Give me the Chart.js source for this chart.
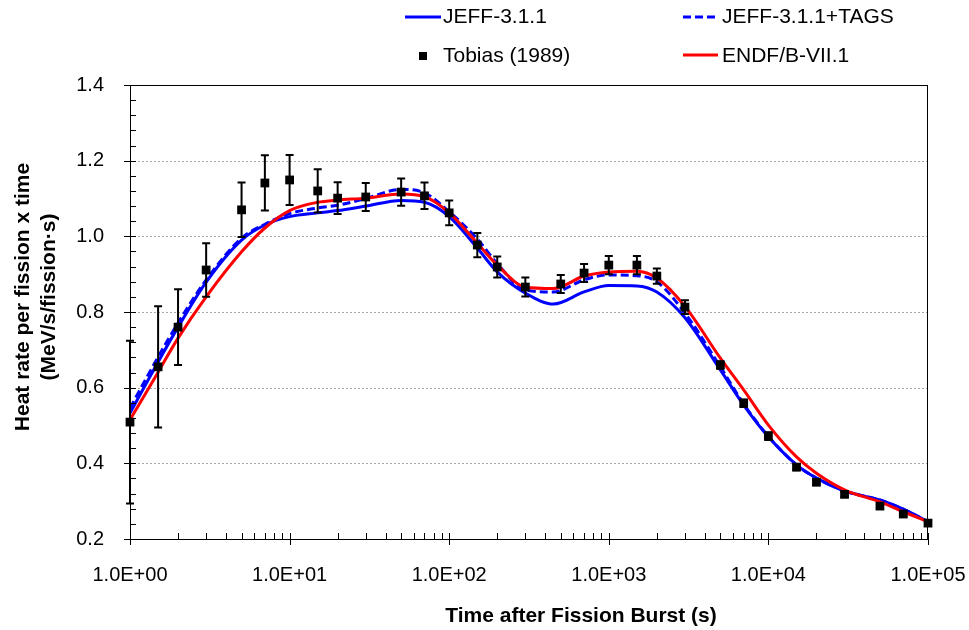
<!DOCTYPE html>
<html>
<head>
<meta charset="utf-8">
<script src="https://cdn.jsdelivr.net/npm/chart.js@4.4.1/dist/chart.umd.min.js"></script>
<style>
  html, body { margin: 0; padding: 0; background: #fff; }
</style>
</head>
<body>
<canvas id="graficoCalor" width="969" height="630"></canvas>
<script>
// tempos das curvas calculadas (s)
const curveTime = [1, 1.5, 2, 3, 5, 7, 10, 15, 20, 30, 50, 70, 100, 150, 200, 300, 450, 700,
  1000, 1500, 2000, 3000, 5000, 7000, 1e4, 1.5e4, 2e4, 3e4, 5e4, 7e4, 1e5];
const jeff = [0.533, 0.668, 0.760, 0.879, 0.990, 1.030, 1.052, 1.062, 1.068, 1.080, 1.095, 1.090, 1.052,
  0.969, 0.906, 0.850, 0.821, 0.853, 0.870, 0.869, 0.853, 0.785, 0.647, 0.554, 0.470, 0.396, 0.361,
  0.327, 0.303, 0.279, 0.246];
const jeffTags = [0.546, 0.681, 0.771, 0.885, 0.995, 1.032, 1.060, 1.075, 1.082, 1.100, 1.124, 1.115, 1.065,
  0.993, 0.928, 0.858, 0.853, 0.885, 0.898, 0.896, 0.880, 0.797, 0.655, 0.557, 0.471, 0.396, 0.361,
  0.327, 0.303, 0.279, 0.246];
const endf = [0.515, 0.641, 0.731, 0.840, 0.959, 1.022, 1.068, 1.090, 1.096, 1.101, 1.112, 1.105, 1.062,
  0.982, 0.924, 0.866, 0.862, 0.895, 0.906, 0.908, 0.890, 0.815, 0.678, 0.594, 0.501, 0.417, 0.374,
  0.330, 0.298, 0.272, 0.246];

// medidas de Tobias (1989)
const tobiasTime = [1, 1.5, 2, 3, 5, 7, 10, 15, 20, 30, 50, 70, 100, 150, 200, 300, 500, 700,
  1000, 1500, 2000, 3000, 5000, 7000, 1e4, 1.5e4, 2e4, 3e4, 5e4, 7e4, 1e5];
const tobiasValue = [0.509, 0.655, 0.760, 0.911, 1.070, 1.141, 1.149, 1.120, 1.101, 1.104, 1.117, 1.107, 1.062,
  0.977, 0.919, 0.866, 0.874, 0.903, 0.924, 0.924, 0.895, 0.813, 0.660, 0.559, 0.472, 0.390, 0.350,
  0.318, 0.287, 0.266, 0.242];
const tobiasError = [0.215, 0.16, 0.10, 0.071, 0.072, 0.073, 0.066, 0.057, 0.042, 0.037, 0.036, 0.035, 0.033,
  0.032, 0.028, 0.025, 0.024, 0.024, 0.024, 0.024, 0.02, 0.018, 0.01, 0.01, 0.01, 0.008, 0.006,
  0.006, 0.005, 0.005, 0.005];

const xTicks = [1, 10, 100, 1000, 1e4, 1e5];
const xTickLabels = ['1.0E+00', '1.0E+01', '1.0E+02', '1.0E+03', '1.0E+04', '1.0E+05'];
const yTicks = [0.2, 0.4, 0.6, 0.8, 1.0, 1.2, 1.4];

const FONT = '"Liberation Sans", Arial, sans-serif';

function pares(xs, ys) {
  return xs.map((x, i) => ({ x: x, y: ys[i] }));
}

// grade, moldura, barras de erro, legenda e títulos
const extras = {
  id: 'extras',
  beforeDatasetsDraw(chart) {
    const { ctx, chartArea: a, scales: { y } } = chart;
    ctx.save();
    ctx.strokeStyle = '#a6a6a6';
    ctx.lineWidth = 1;
    ctx.setLineDash([2, 2]);
    yTicks.slice(1, -1).forEach(v => {
      const py = Math.round(y.getPixelForValue(v)) + 0.5;
      ctx.beginPath();
      ctx.moveTo(a.left, py);
      ctx.lineTo(a.right, py);
      ctx.stroke();
    });
    ctx.restore();
  },
  afterDatasetsDraw(chart) {
    const { ctx, chartArea: a, scales: { x, y } } = chart;
    ctx.save();
    // barras de erro
    ctx.strokeStyle = '#000';
    ctx.lineWidth = 2;
    tobiasTime.forEach((t, i) => {
      const px = x.getPixelForValue(t);
      const top = y.getPixelForValue(tobiasValue[i] + tobiasError[i]);
      const bot = y.getPixelForValue(tobiasValue[i] - tobiasError[i]);
      ctx.beginPath();
      ctx.moveTo(px, top); ctx.lineTo(px, bot);
      ctx.moveTo(px - 4, top); ctx.lineTo(px + 4, top);
      ctx.moveTo(px - 4, bot); ctx.lineTo(px + 4, bot);
      ctx.stroke();
    });
    // moldura
    ctx.lineWidth = 1;
    ctx.strokeRect(a.left + 0.5, a.top + 0.5, a.right - a.left - 1, a.bottom - a.top);
    // marcas do eixo y
    ctx.beginPath();
    for (let v = 0.2; v < 1.4001; v += 0.04) {
      const py = Math.round(y.getPixelForValue(v)) + 0.5;
      const major = Math.abs(v * 5 - Math.round(v * 5)) < 1e-6;
      ctx.moveTo(major ? a.left - 6 : a.left, py);
      ctx.lineTo(a.left + 6, py);
    }
    // marcas do eixo x
    for (let d = 1; d < 1e5; d *= 10) {
      for (let k = 1; k <= 10; k++) {
        const px = Math.round(x.getPixelForValue(d * k)) + 0.5;
        const major = k === 1 || k === 10;
        ctx.moveTo(px, a.bottom - 6);
        ctx.lineTo(px, major ? a.bottom + 6 : a.bottom);
      }
    }
    ctx.stroke();
    ctx.restore();
  },
  afterDraw(chart) {
    const { ctx } = chart;
    ctx.save();
    ctx.fillStyle = '#000';
    ctx.textBaseline = 'middle';
    ctx.textAlign = 'left';
    ctx.font = '21px ' + FONT;
    // legenda
    ctx.lineWidth = 3;
    ctx.strokeStyle = '#0000ff';
    ctx.beginPath(); ctx.moveTo(405, 17); ctx.lineTo(441, 17); ctx.stroke();
    ctx.fillText('JEFF-3.1.1', 443, 17);
    ctx.setLineDash([8, 4]);
    ctx.beginPath(); ctx.moveTo(683, 17); ctx.lineTo(717, 17); ctx.stroke();
    ctx.setLineDash([]);
    ctx.fillText('JEFF-3.1.1+TAGS', 722, 17);
    ctx.fillRect(419, 52, 8, 8);
    ctx.fillText('Tobias (1989)', 443, 56);
    ctx.strokeStyle = '#ff0000';
    ctx.beginPath(); ctx.moveTo(683, 55); ctx.lineTo(718, 55); ctx.stroke();
    ctx.fillText('ENDF/B-VII.1', 722, 56);
    // títulos dos eixos
    ctx.font = 'bold 21px ' + FONT;
    ctx.textAlign = 'center';
    ctx.fillText('Time after Fission Burst (s)', 581, 616);
    ctx.translate(0, 297);
    ctx.rotate(-Math.PI / 2);
    ctx.fillText('Heat rate per fission x time', 0, 23);
    ctx.fillText('(MeV/s/fission\u00b7s)', 0, 49);
    ctx.restore();
  }
};

new Chart(document.getElementById('graficoCalor'), {
  type: 'line',
  data: {
    datasets: [
      {
        label: 'Tobias (1989)',
        data: pares(tobiasTime, tobiasValue),
        showLine: false,
        pointStyle: 'rect',
        pointRadius: 6.2,
        backgroundColor: '#000',
        borderColor: '#000',
        borderWidth: 0,
        clip: false,
        order: 0
      },
      {
        label: 'ENDF/B-VII.1',
        data: pares(curveTime, endf),
        borderColor: '#ff0000',
        borderWidth: 3,
        pointRadius: 0,
        cubicInterpolationMode: 'monotone',
        order: 1
      },
      {
        label: 'JEFF-3.1.1+TAGS',
        data: pares(curveTime, jeffTags),
        borderColor: '#0000ff',
        borderWidth: 3,
        borderDash: [8, 4],
        pointRadius: 0,
        cubicInterpolationMode: 'monotone',
        order: 2
      },
      {
        label: 'JEFF-3.1.1',
        data: pares(curveTime, jeff),
        borderColor: '#0000ff',
        borderWidth: 3,
        pointRadius: 0,
        cubicInterpolationMode: 'monotone',
        order: 3
      }
    ]
  },
  options: {
    responsive: false,
    animation: false,
    devicePixelRatio: 1,
    layout: { padding: { top: 85, right: 41, left: 0, bottom: 0 } },
    plugins: { legend: { display: false }, tooltip: { enabled: false } },
    scales: {
      x: {
        type: 'logarithmic',
        min: 1,
        max: 1e5,
        afterBuildTicks: s => { s.ticks = xTicks.map(v => ({ value: v })); },
        afterFit: s => { s.height = 91; s.paddingLeft = 0; s.paddingRight = 0; },
        grid: { display: false },
        border: { display: false },
        ticks: {
          autoSkip: false,
          maxRotation: 0,
          padding: 16,
          color: '#000',
          font: { family: FONT, size: 20 },
          callback: (v, i) => xTickLabels[i]
        }
      },
      y: {
        min: 0.2,
        max: 1.4,
        afterBuildTicks: s => { s.ticks = yTicks.map(v => ({ value: v })); },
        afterFit: s => { s.width = 130; s.paddingTop = 0; s.paddingBottom = 0; },
        grid: { display: false },
        border: { display: false },
        ticks: {
          padding: 18,
          color: '#000',
          font: { family: FONT, size: 20 },
          callback: v => v.toFixed(1)
        }
      }
    }
  },
  plugins: [extras]
});
</script>
</body>
</html>
